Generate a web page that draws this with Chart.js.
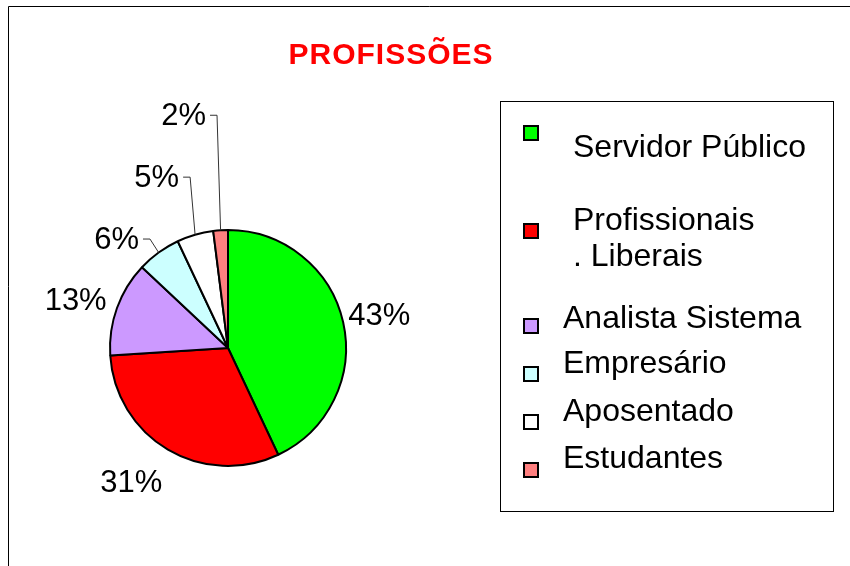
<!DOCTYPE html>
<html>
<head>
<meta charset="utf-8">
<script src="https://cdn.jsdelivr.net/npm/chart.js@4/dist/chart.umd.min.js"></script>
<style>
  html, body { margin: 0; padding: 0; background: #fff; }
  #wrap { width: 850px; height: 566px; }
</style>
</head>
<body>
<div id="wrap"><canvas id="pie" width="850" height="566"></canvas></div>
<script>
// data
const chartTitle = 'PROFISSÕES';
const categories = ['Servidor Público', ['Profissionais', '. Liberais'], 'Analista Sistema', 'Empresário', 'Aposentado', 'Estudantes'];
const shares = [43, 31, 13, 6, 5, 2];
const sliceColors = ['#00FF00', '#FF0000', '#CC99FF', '#CCFFFF', '#FFFFFF', '#FF8080'];

// where each % label sits: angle shift (deg) from slice middle, distance from centre, leader line?
const labelPlace = [[0, 155, false], [5.3, 165, false], [-2, 160, false], [0.4, 134, true], [3.7, 175, true], [0.9, 233, true]];

// legend rows: marker centre y, text centre y's, text x
const legendRows = [
  { my: 133, ty: [148], tx: 573 },
  { my: 231, ty: [221, 257], tx: 573 },
  { my: 326, ty: [319], tx: 563 },
  { my: 374, ty: [364], tx: 563 },
  { my: 422, ty: [412], tx: 563 },
  { my: 470, ty: [459], tx: 563 }
];

const decorPlugin = {
  id: 'decor',
  afterDraw(chart) {
    const ctx = chart.ctx;
    ctx.save();

    // outer frame (top and left edges only visible)
    ctx.strokeStyle = '#000';
    ctx.lineWidth = 1;
    ctx.beginPath();
    ctx.moveTo(8.5, 566);
    ctx.lineTo(8.5, 6.5);
    ctx.lineTo(850, 6.5);
    ctx.stroke();

    // title
    ctx.fillStyle = '#FF0000';
    ctx.font = 'bold 30px "Liberation Sans", Arial, sans-serif';
    ctx.textAlign = 'center';
    ctx.textBaseline = 'middle';
    ctx.letterSpacing = '1px';
    ctx.fillText(chartTitle, 391, 56);
    ctx.letterSpacing = '0px';

    // percentage labels
    const total = shares.reduce((s, v) => s + v, 0);
    const meta = chart.getDatasetMeta(0);
    ctx.fillStyle = '#000';
    ctx.font = '31px "Liberation Sans", Arial, sans-serif';
    meta.data.forEach((arc, i) => {
      const p = arc.getProps(['x', 'y', 'startAngle', 'endAngle', 'outerRadius'], true);
      const mid = (p.startAngle + p.endAngle) / 2;
      const [shift, dist, leader] = labelPlace[i];
      const a = mid + shift * Math.PI / 180;
      const px = p.x + Math.cos(a) * dist;
      const py = p.y + Math.sin(a) * dist;
      const txt = Math.round(shares[i] / total * 100) + '%';
      if (leader) {
        ctx.strokeStyle = '#333';
        ctx.lineWidth = 1;
        ctx.beginPath();
        ctx.moveTo(p.x + Math.cos(mid) * p.outerRadius, p.y + Math.sin(mid) * p.outerRadius);
        ctx.lineTo(px, py);
        ctx.lineTo(px - 7, py);
        ctx.stroke();
        ctx.textAlign = 'right';
        ctx.fillText(txt, px - 11, py + 1);
      } else {
        ctx.textAlign = 'center';
        ctx.fillText(txt, px, py + 2);
      }
    });

    // legend box
    ctx.strokeStyle = '#000';
    ctx.lineWidth = 1;
    ctx.strokeRect(500.5, 101.5, 333, 410);
    ctx.font = '32px "Liberation Sans", Arial, sans-serif';
    ctx.textAlign = 'left';
    chart.data.labels.forEach((lab, i) => {
      const row = legendRows[i];
      ctx.fillStyle = sliceColors[i];
      ctx.fillRect(524, row.my - 7, 14, 14);
      ctx.lineWidth = 2;
      ctx.strokeRect(524, row.my - 7, 14, 14);
      ctx.fillStyle = '#000';
      const lines = Array.isArray(lab) ? lab : [lab];
      lines.forEach((ln, k) => ctx.fillText(ln, row.tx, row.ty[k]));
    });

    ctx.restore();
  }
};

new Chart(document.getElementById('pie'), {
  type: 'pie',
  data: {
    labels: categories,
    datasets: [{
      data: shares,
      backgroundColor: sliceColors,
      borderColor: '#000',
      borderWidth: 2
    }]
  },
  options: {
    responsive: false,
    animation: false,
    layout: { padding: { left: 109, top: 229, right: 503, bottom: 99 } },
    plugins: {
      legend: { display: false },
      tooltip: { enabled: false },
      title: { display: false }
    }
  },
  plugins: [decorPlugin]
});
</script>
</body>
</html>
